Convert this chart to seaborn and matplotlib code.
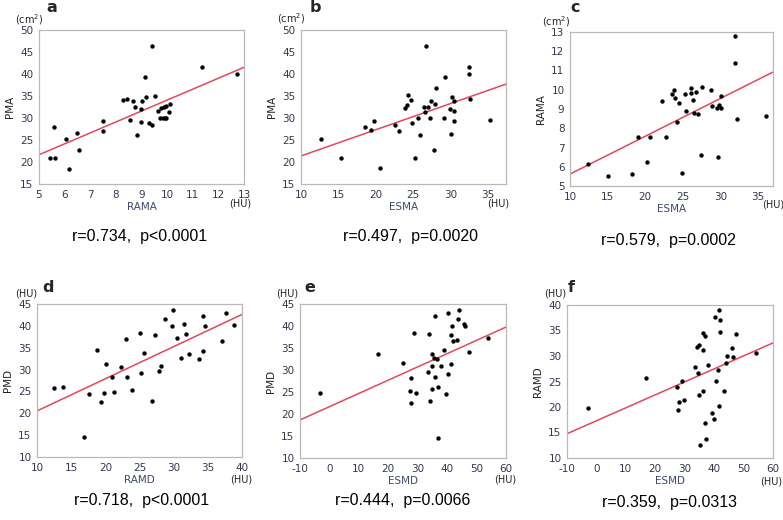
import numpy as np
import pandas as pd
import matplotlib
matplotlib.use("Agg")
import matplotlib.pyplot as plt
import seaborn as sns
from matplotlib.ticker import MultipleLocator

sns.set_style("white")
plt.rcParams['font.family'] = ['DejaVu Sans']
plt.rcParams['axes.unicode_minus'] = False

# ---------------- data ----------------
# panel a: RAMA vs PMA
a_rama = [5.44, 5.64, 5.57, 6.07, 6.16, 6.47, 6.55, 7.48, 7.48, 8.29, 8.42, 8.67, 8.56, 8.76,
          8.84, 9.00, 8.98, 8.98, 9.13, 9.19, 9.28, 9.40, 9.42, 9.51, 9.63, 9.71, 9.76, 9.82,
          9.86, 9.92, 9.94, 9.97, 10.06, 10.10, 11.37, 12.74]
a_pma = [20.8, 20.9, 28.0, 25.3, 18.5, 26.5, 22.7, 29.4, 27.1, 34.2, 34.4, 33.9, 29.5, 32.4,
         26.1, 33.8, 32.1, 29.2, 39.3, 34.8, 28.8, 28.3, 46.4, 35.0, 31.6, 30.0, 32.2, 30.0,
         32.5, 30.0, 32.7, 30.0, 31.4, 33.2, 41.5, 40.1]

# panel b: ESMA vs PMA
b_esma = [12.66, 15.33, 18.57, 19.41, 19.72, 20.57, 22.61, 23.06, 23.85, 24.16, 24.25, 24.65,
          24.88, 25.28, 25.67, 25.94, 26.47, 26.56, 26.74, 26.96, 27.18, 27.36, 27.81, 27.90,
          27.98, 29.09, 29.27, 29.98, 30.07, 30.20, 30.43, 30.47, 30.47, 32.42, 32.47, 32.60,
          35.22]
b_pma = [25.3, 20.8, 28.0, 27.2, 29.4, 18.6, 28.5, 27.1, 32.3, 32.9, 35.2, 34.2, 28.8, 20.9,
         30.0, 26.1, 32.5, 31.4, 46.4, 32.4, 30.0, 33.9, 22.7, 33.2, 36.9, 30.0, 39.3, 32.1,
         26.4, 34.8, 33.8, 31.6, 29.3, 41.5, 40.1, 34.4, 29.5]

# panel c: ESMA vs RAMA
c_esma = [12.38, 15.06, 18.23, 19.07, 20.21, 20.61, 22.28, 22.72, 23.51, 23.86, 23.91, 24.26,
          24.44, 24.96, 25.27, 25.49, 26.06, 26.10, 26.33, 26.55, 26.77, 26.99, 27.43, 27.52,
          28.79, 28.88, 29.54, 29.67, 29.80, 30.07, 30.07, 31.88, 32.00, 32.23, 36.06]
c_rama = [6.14, 5.50, 5.64, 7.54, 6.23, 7.54, 9.44, 7.56, 9.80, 9.99, 9.56, 8.34, 9.32, 5.69,
          9.77, 8.91, 10.10, 9.84, 9.48, 8.80, 9.86, 8.72, 6.61, 10.12, 9.98, 9.18, 9.03, 6.52,
          9.23, 9.04, 9.68, 11.41, 12.79, 8.47, 8.63]

# panel d: RAMD vs PMD
d_ramd = [12.53, 13.79, 16.90, 17.58, 18.75, 19.33, 19.77, 20.06, 20.99, 21.33, 22.30, 23.03,
          23.13, 23.86, 25.12, 25.22, 25.60, 26.77, 27.20, 27.84, 28.18, 28.67, 29.74, 29.88,
          30.52, 31.05, 31.44, 31.78, 32.20, 33.72, 34.26, 34.30, 34.60, 37.03, 37.61, 38.90]
d_pmd = [25.75, 26.05, 14.63, 24.5, 34.57, 22.6, 24.7, 31.35, 28.3, 24.9, 30.7, 36.9, 28.3,
         25.3, 38.45, 29.3, 33.9, 22.8, 38.0, 29.6, 30.9, 41.5, 40.0, 43.6, 37.2, 32.75, 40.5,
         38.2, 33.6, 32.4, 34.2, 42.2, 39.9, 36.6, 42.9, 40.1]

# panel e: ESMD vs PMD
e_esmd = [-3.19, 16.55, 24.94, 27.67, 27.21, 27.55, 28.80, 29.48, 33.34, 33.79, 34.02, 34.70,
          34.70, 34.70, 35.72, 35.61, 35.84, 36.52, 36.86, 36.97, 37.77, 38.90, 39.58, 40.26,
          40.15, 41.17, 41.40, 41.51, 41.85, 43.21, 43.67, 44.12, 45.71, 46.05, 47.30, 53.88]
e_pmd = [24.68, 33.74, 31.6, 28.26, 25.3, 22.6, 38.5, 24.8, 29.6, 38.2, 22.85, 33.6, 30.8,
         25.75, 42.2, 32.8, 28.3, 32.4, 14.6, 26.05, 31.0, 34.6, 24.5, 29.2, 42.9, 37.9, 31.45,
         40.05, 36.55, 36.85, 41.5, 43.55, 40.4, 39.9, 34.1, 37.2]

# panel f: ESMD vs RAMD
f_esmd = [-2.85, 16.89, 27.44, 27.90, 27.78, 29.03, 29.71, 33.45, 34.02, 34.36, 34.93, 34.93,
          35.04, 36.06, 36.06, 36.18, 36.86, 36.97, 37.31, 37.99, 39.13, 39.81, 40.26, 40.49,
          41.40, 41.51, 41.74, 41.96, 42.08, 43.44, 43.89, 44.46, 45.93, 46.27, 47.52, 54.10]
f_ramd = [19.84, 25.65, 23.9, 21.0, 19.4, 25.1, 21.35, 27.93, 31.85, 26.75, 32.24, 22.32,
          12.54, 34.46, 31.13, 23.17, 33.87, 16.91, 13.78, 28.26, 18.8, 17.63, 37.72, 25.19,
          27.34, 20.1, 39.0, 34.72, 37.06, 23.1, 28.72, 30.02, 31.52, 29.76, 34.4, 30.6]

panel_letters = ["a", "b", "c", "d", "e", "f"]
x_labels = ["RAMA", "ESMA", "ESMA", "RAMD", "ESMD", "ESMD"]
y_labels = ["PMA", "PMA", "RAMA", "PMD", "PMD", "RAMD"]
y_units = ["(cm$^2$)", "(cm$^2$)", "(cm$^2$)", "(HU)", "(HU)", "(HU)"]
stats = ["r=0.734,  p<0.0001", "r=0.497,  p=0.0020", "r=0.579,  p=0.0002",
         "r=0.718,  p<0.0001", "r=0.444,  p=0.0066", "r=0.359,  p=0.0313"]

# ---------------- layout (pixels) ----------------
W, H = 783, 520
fig = plt.figure(figsize=(W / 100, H / 100), dpi=100)

def rect(l, r, t, b):
    return [l / W, 1 - b / H, (r - l) / W, (b - t) / H]

def ftext(x, y, s, **kw):
    fig.text(x / W, 1 - y / H, s, **kw)

panels = [
    dict(x=a_rama, y=a_pma, box=(39, 244, 30, 184), xlim=(5, 13), ylim=(15, 50), xmaj=1, xmin=None, ymaj=5,
         letter=(52, 8), unit=(43, 20), hu=(240, 204), stat=(140, 237)),
    dict(x=b_esma, y=b_pma, box=(301, 506, 30, 184), xlim=(10, 37.4), ylim=(15, 50), xmaj=5, xmin=2.5, ymaj=5,
         letter=(315, 7), unit=(305, 19), hu=(498, 204), stat=(410, 237)),
    dict(x=c_esma, y=c_rama, box=(570, 773, 32, 186), xlim=(10, 37.0), ylim=(5, 13), xmaj=5, xmin=2.5, ymaj=1,
         letter=(575, 7), unit=(570, 22), hu=(773, 205), stat=(668, 240)),
    dict(x=d_ramd, y=d_pmd, box=(37, 242, 304, 457), xlim=(10, 40), ylim=(10, 45), xmaj=5, xmin=2.5, ymaj=5,
         letter=(48, 288), unit=(37, 293), hu=(241, 480), stat=(142, 501)),
    dict(x=e_esmd, y=e_pmd, box=(300, 506, 304, 458), xlim=(-10, 60), ylim=(10, 45), xmaj=10, xmin=5, ymaj=5,
         letter=(310, 288), unit=(298, 293), hu=(505, 480), stat=(403, 501)),
    dict(x=f_esmd, y=f_ramd, box=(567, 773, 305, 458), xlim=(-10, 60), ylim=(10, 40), xmaj=10, xmin=5, ymaj=5,
         letter=(571, 287), unit=(566, 294), hu=(771, 482), stat=(670, 503)),
]

tick_col = "#33374f"
frame_col = "#b9b9b9"
red = "#e2475a"

for i, p in enumerate(panels):
    l, r, t, b = p["box"]
    ax = fig.add_axes(rect(l, r, t, b))
    ax.set_xlim(*p["xlim"])
    ax.set_ylim(*p["ylim"])
    df = pd.DataFrame({"x": p["x"], "y": p["y"]})
    sns.regplot(data=df, x="x", y="y", ax=ax, ci=None, truncate=False,
                scatter_kws=dict(s=10, color="black", linewidths=0, alpha=1, zorder=3),
                line_kws=dict(color=red, lw=1.1, zorder=2))
    ax.set_xlim(*p["xlim"])
    ax.set_ylim(*p["ylim"])
    ax.xaxis.set_major_locator(MultipleLocator(p["xmaj"]))
    if p["xmin"]:
        ax.xaxis.set_minor_locator(MultipleLocator(p["xmin"]))
    ax.yaxis.set_major_locator(MultipleLocator(p["ymaj"]))
    for s in ax.spines.values():
        s.set_color(frame_col)
        s.set_linewidth(0.9)
    ax.tick_params(axis="both", which="major", direction="out", length=3, width=0.8,
                   color=frame_col, labelcolor=tick_col, labelsize=7.5, pad=1)
    ax.tick_params(axis="x", which="minor", direction="out", length=2, width=0.6, color=frame_col)
    ax.set_xlabel(x_labels[i], fontsize=7.5, color="#3c4a6e", labelpad=2)
    ax.set_ylabel(y_labels[i], fontsize=7.5, color="#222222", labelpad=4)

    ftext(*p["letter"], panel_letters[i], fontsize=11.5, fontweight="bold", ha="center", va="center")
    ftext(*p["unit"], y_units[i], fontsize=7, color="#222222", ha="right", va="center")
    ftext(*p["hu"], "(HU)", fontsize=7, color="#222222", ha="center", va="center")
    ftext(*p["stat"], stats[i], fontsize=11.5, color="black", ha="center", va="center",
          family=["Liberation Sans", "DejaVu Sans"])

fig.savefig("out.png", dpi=100)
